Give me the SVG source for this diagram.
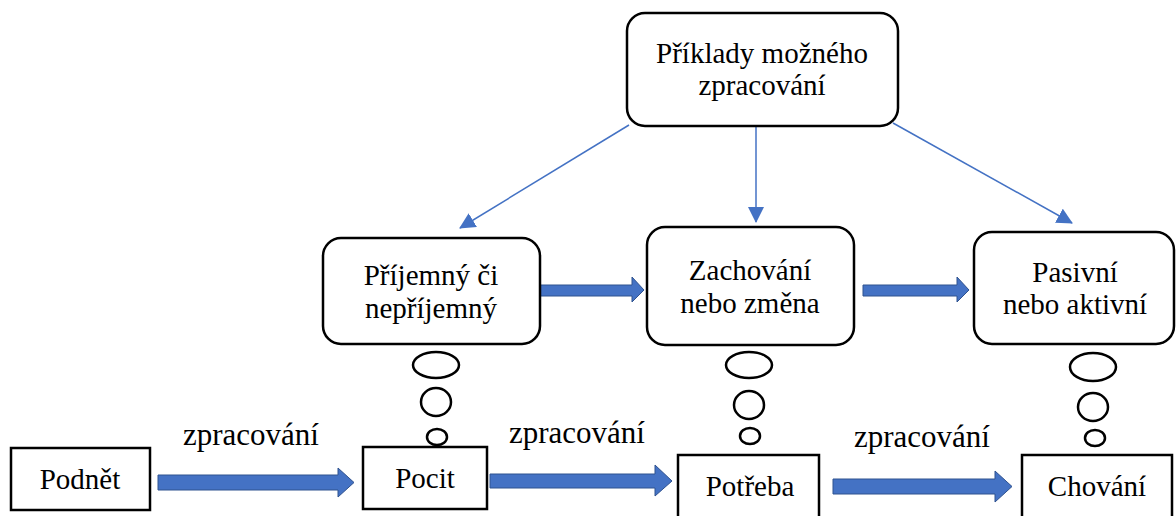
<svg xmlns="http://www.w3.org/2000/svg" width="1176" height="516" viewBox="0 0 1176 516">
<defs>
<style>
.box{fill:#fff;stroke:#000;stroke-width:2.5}
.bub{fill:#fff;stroke:#000;stroke-width:2.5}
text{font-family:'Liberation Serif','Times New Roman',Tinos,'DejaVu Serif',serif;fill:#000;text-anchor:middle}
.t{font-size:29px}
.lbl{font-size:31px}
.thin{stroke:#4472C4;stroke-width:1.5;fill:none}
.blk{fill:#4472C4;stroke:#2F528F;stroke-width:1}
</style>
<marker id="ah" markerUnits="userSpaceOnUse" markerWidth="16" markerHeight="16" viewBox="0 0 16 16" refX="15" refY="8" orient="auto">
<path d="M0,0 L16,8 L0,16 Z" fill="#4472C4"/>
</marker>
</defs>

<g id="connectors">
<line class="thin" x1="629" y1="125" x2="460" y2="228" marker-end="url(#ah)"/>
<line class="thin" x1="756" y1="125" x2="756" y2="222" marker-end="url(#ah)"/>
<line class="thin" x1="893" y1="123" x2="1072" y2="223" marker-end="url(#ah)"/>
<path class="blk" d="M538,285 H632 V277 L644,290 L632,302 V296 H538 Z"/>
<path class="blk" d="M863,285 H957 V277 L969,290 L957,302 V296 H863 Z"/>
<path class="blk" d="M158,475 H338 V468 L354,482.5 L338,497 V490 H158 Z"/>
<path class="blk" d="M490,474 H655 V465 L672,481 L655,496 V488 H490 Z"/>
<path class="blk" d="M833,479 H995 V471 L1012,486.5 L995,502 V494 H833 Z"/>
</g>

<g id="top">
<rect class="box" x="627" y="13" width="271" height="113" rx="18"/>
<text class="t" x="762" y="63" font-family="Liberation Serif, serif">Příklady možného</text>
<text class="t" x="762" y="95" font-family="Liberation Serif, serif">zpracování</text>
</g>

<g id="prijemny">
<rect class="box" x="323" y="238" width="217" height="106" rx="18"/>
<text class="t" x="431" y="285">Příjemný či</text>
<text class="t" x="431" y="318">nepříjemný</text>
</g>

<g id="zachovani">
<rect class="box" x="647" y="227" width="207" height="118" rx="18"/>
<text class="t" x="750" y="280">Zachování</text>
<text class="t" x="750" y="313">nebo změna</text>
</g>

<g id="pasivni">
<rect class="box" x="974" y="232" width="200" height="112" rx="18"/>
<text class="t" x="1075" y="282">Pasivní</text>
<text class="t" x="1075" y="314">nebo aktivní</text>
</g>

<g id="bubbles-pocit">
<ellipse class="bub" cx="436" cy="365" rx="23" ry="13"/>
<ellipse class="bub" cx="436" cy="402" rx="15" ry="14"/>
<ellipse class="bub" cx="437" cy="437" rx="10" ry="8"/>
</g>
<g id="bubbles-potreba">
<ellipse class="bub" cx="749" cy="365" rx="23" ry="13"/>
<ellipse class="bub" cx="749" cy="405" rx="15" ry="14"/>
<ellipse class="bub" cx="750" cy="436" rx="10" ry="8"/>
</g>
<g id="bubbles-chovani">
<ellipse class="bub" cx="1093" cy="367" rx="23" ry="14"/>
<ellipse class="bub" cx="1093" cy="407" rx="15" ry="14"/>
<ellipse class="bub" cx="1095" cy="438" rx="10" ry="8"/>
</g>

<g id="podnet">
<rect class="box" x="11" y="448" width="139" height="62"/>
<text class="t" x="80" y="489">Podnět</text>
</g>
<g id="pocit">
<rect class="box" x="363" y="447" width="124" height="62"/>
<text class="t" x="425" y="488">Pocit</text>
</g>
<g id="potreba">
<rect class="box" x="678" y="455" width="141" height="70"/>
<text class="t" x="750" y="496">Potřeba</text>
</g>
<g id="chovani">
<rect class="box" x="1022" y="455" width="150" height="70"/>
<text class="t" x="1097" y="496">Chování</text>
</g>

<g id="labels">
<text class="lbl" x="251" y="445">zpracování</text>
<text class="lbl" x="577" y="443">zpracování</text>
<text class="lbl" x="922" y="447">zpracování</text>
</g>
</svg>
